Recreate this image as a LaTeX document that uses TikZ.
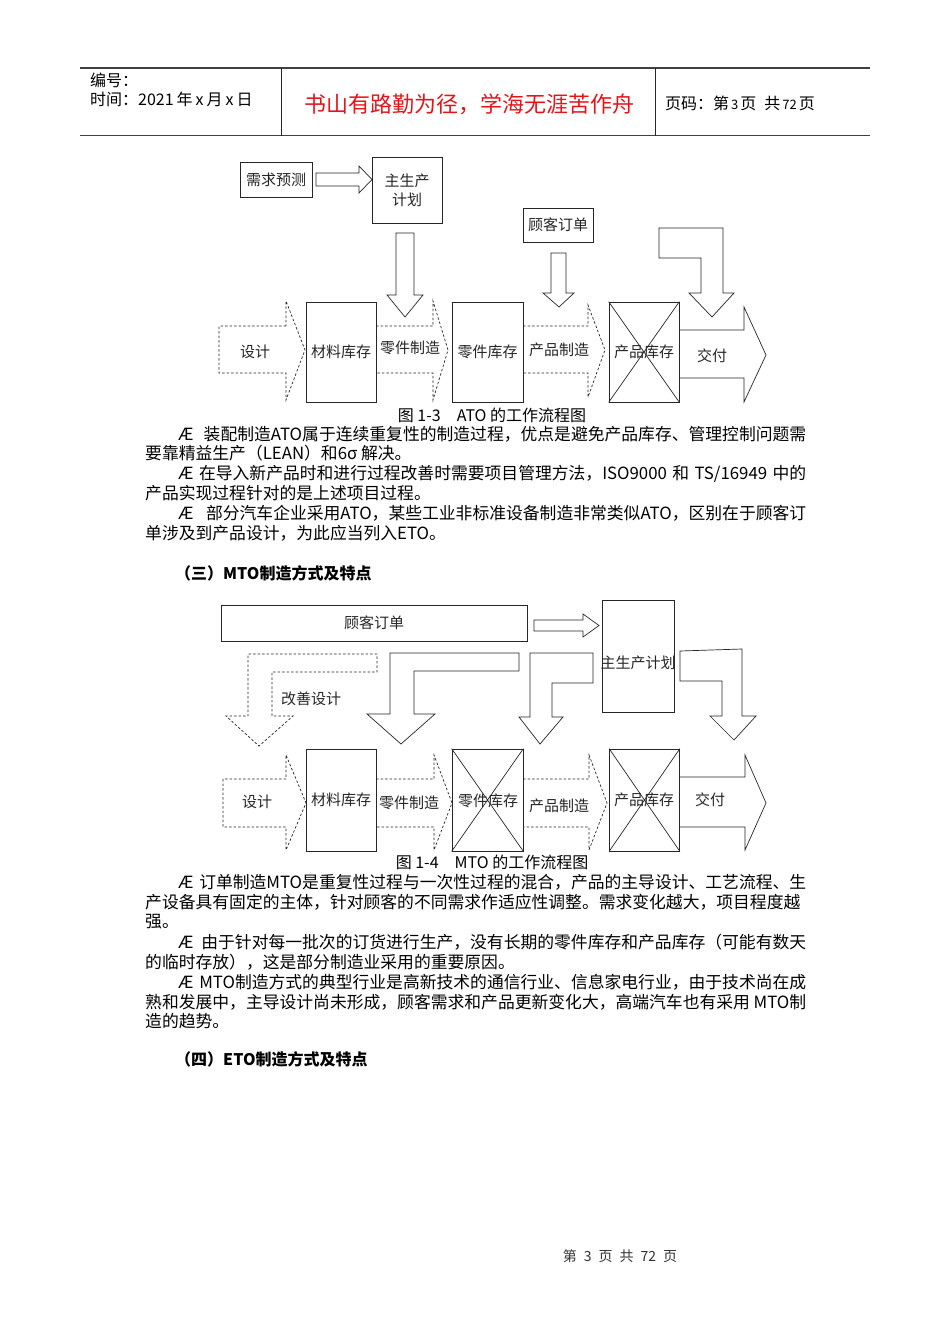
\documentclass[tikz,border=0pt]{standalone}
\usepackage{fontspec}
\setmainfont{Noto Sans CJK SC}
\XeTeXlinebreaklocale "zh"
\XeTeXlinebreakskip=0pt plus 3pt minus 0.8pt
\definecolor{hdrred}{RGB}{230,20,25}
\tikzset{
 ln/.style={draw=black!85, line width=0.7pt},
 bx/.style={ln, inner sep=0pt, font=\fontsize{15}{18}\selectfont, text=black!85},
 dsh/.style={draw=black!85, line width=0.7pt, dash pattern=on 2.5pt off 2pt},
 lbl/.style={inner sep=0pt, font=\fontsize{15}{17}\selectfont, text=black!85},
 body/.style={anchor=west, inner sep=0pt, font=\fontsize{16.8}{20}\selectfont},
 captxt/.style={inner sep=0pt, font=\fontsize{16}{18}\selectfont},
 ttl/.style={anchor=west, inner sep=0pt, font=\fontsize{16}{18}\selectfont\bfseries},
 hdr/.style={anchor=west, inner sep=0pt, font=\fontsize{16}{18}\selectfont},
}
\begin{document}
\begin{tikzpicture}[x=1pt,y=-1pt]
\useasboundingbox[fill=white] (0,0) rectangle (950,1344);

% ---------- header ----------
\draw[black!75, line width=1.4pt] (80,68) -- (870,68);
\draw[black!75, line width=1.4pt] (80,135.5) -- (870,135.5);
\draw[black!85, line width=0.8pt] (281,68) -- (281,135.5);
\draw[black!85, line width=0.8pt] (655,68) -- (655,135.5);
\node[hdr] (h1) at (90,80) {编号：};
\node[hdr] (h2) at (90,99.5) {时间：2021\hspace{3pt}年\hspace{3pt}x\hspace{3pt}月\hspace{3pt}x\hspace{3pt}日};
\node[inner sep=0pt, font=\fontsize{22}{24}\selectfont, text=hdrred] (h3) at (469,104) {书山有路勤为径，学海无涯苦作舟};
\node[hdr] (h4) at (665,103) {页码：第\hspace{2pt}{\fontsize{13}{15}\selectfont 3}\hspace{2pt}页\hspace{8pt}共\hspace{2pt}{\fontsize{13}{15}\selectfont 72}\hspace{2pt}页};

% ---------- ATO diagram ----------
\node[bx, minimum width=72pt, minimum height=35pt] (xq) at (276,179.5) {需求预测};
\node[bx, minimum width=70pt, minimum height=66pt, align=center] (zs) at (407,190) {主生产\\[1pt]计划};
\draw[ln] (316,173) -- (359,173) -- (359,166) -- (372,179.5) -- (359,193) -- (359,186) -- (316,186) -- cycle;
\draw[ln] (396,233) -- (414,233) -- (414,295) -- (423,295) -- (405,317) -- (387,295) -- (396,295) -- cycle;
\node[bx, minimum width=70pt, minimum height=34pt] (gk) at (558,225) {顾客订单};
\draw[ln] (551,253) -- (566,253) -- (566,293) -- (574,293) -- (559,307) -- (543,293) -- (551,293) -- cycle;
\draw[ln] (659,228) -- (723,228) -- (723,293) -- (734,293) -- (712,317) -- (689,293) -- (701,293) -- (701,258) -- (659,258) -- cycle;

\draw[dsh] (286,326) -- (219,326) -- (219,373) -- (286,373) -- (286,400) -- (305,350) -- (286,301) -- cycle;
\node[bx, minimum width=70pt, minimum height=100pt] (cl1) at (341,352) {材料库存};
\draw[dsh] (376,326) -- (433,326) -- (433,301) -- (448,350) -- (433,400) -- (433,373) -- (376,373);
\node[bx, minimum width=71pt, minimum height=100pt] (lk1) at (487.5,352) {零件库存};
\draw[dsh] (523,326) -- (588,326) -- (588,305) -- (605,350) -- (588,397) -- (588,373) -- (523,373);
\node[bx, minimum width=70pt, minimum height=100pt] (ck1) at (644,352) {};
\draw[ln] (ck1.north west) -- (ck1.south east) (ck1.north east) -- (ck1.south west);
\node[lbl] (ck1t) at (ck1) {产品库存};
\draw[ln] (679,330) -- (744,330) -- (744,307) -- (766,355) -- (744,402) -- (744,378) -- (679,378);
\node[lbl] (sj1) at (255,352) {设计};
\node[lbl] (lz1) at (410,348) {零件制造};
\node[lbl] (cz1) at (559,350) {产品制造};
\node[lbl] (jf1) at (712,356) {交付};
\node[captxt] (c1) at (492,415) {图 1-3\quad ATO 的工作流程图};

% ---------- ATO text ----------
\node[body] (a1) at (178,434) {\makebox[628pt][s]{Æ 装配制造ATO属于连续重复性的制造过程，优点是避免产品库存、管理控制问题需}};
\node[body] (a2) at (145,453.5) {要靠精益生产（LEAN）和6σ 解决。};
\node[body] (a3) at (178,473.5) {\makebox[628pt][s]{Æ 在导入新产品时和进行过程改善时需要项目管理方法，ISO9000 和 TS/16949 中的}};
\node[body] (a4) at (145,493.5) {产品实现过程针对的是上述项目过程。};
\node[body] (a5) at (178,513.5) {\makebox[628pt][s]{Æ 部分汽车企业采用ATO，某些工业非标准设备制造非常类似ATO，区别在于顾客订}};
\node[body] (a6) at (145,533.5) {单涉及到产品设计，为此应当列入ETO。};

\node[ttl] (t3) at (175,573) {（三）MTO制造方式及特点};

% ---------- MTO diagram ----------
\node[bx, minimum width=306pt, minimum height=36pt] (gk2) at (374,623) {顾客订单};
\draw[ln] (534,620) -- (583,620) -- (583,614) -- (599,625.5) -- (583,637) -- (583,631) -- (534,631) -- cycle;
\node[bx, minimum width=72pt, minimum height=112pt] (zs2) at (638,656) {};
\node[lbl] (zs2t) at (638,663) {主生产计划};
\draw[dsh] (377,654) -- (248,654) -- (248,716) -- (226,716) -- (259,746) -- (293,716) -- (272,716) -- (272,672) -- (377,672) -- cycle;
\node[lbl] (gs) at (311,699) {改善设计};
\draw[ln] (519,653) -- (390,653) -- (390,714) -- (367,714) -- (401,744) -- (435,714) -- (414,714) -- (414,671) -- (519,671) -- cycle;
\draw[ln] (593,653) -- (530,653) -- (530,717) -- (519,717) -- (540,744) -- (563,717) -- (552,717) -- (552,683) -- (593,683) -- cycle;
\draw[ln] (680,651) -- (742,649) -- (742,716) -- (756,716) -- (734,740) -- (710,716) -- (722,716) -- (722,681) -- (680,681) -- cycle;

\draw[dsh] (286,779) -- (223,779) -- (223,827) -- (286,827) -- (286,850) -- (306,803) -- (286,755) -- cycle;
\node[bx, minimum width=70pt, minimum height=102pt] (cl2) at (341,800) {材料库存};
\draw[dsh] (376,779) -- (434,779) -- (434,755) -- (452,803) -- (434,850) -- (434,827) -- (376,827);
\node[bx, minimum width=71pt, minimum height=102pt] (lk2) at (487.5,800) {};
\draw[ln] (lk2.north west) -- (lk2.south east) (lk2.north east) -- (lk2.south west);
\node[lbl] (lk2t) at (488,801) {零件库存};
\draw[dsh] (523,779) -- (589,779) -- (589,755) -- (607,803) -- (589,850) -- (589,827) -- (523,827);
\node[bx, minimum width=70pt, minimum height=102pt] (ck2) at (644.5,800) {};
\draw[ln] (ck2.north west) -- (ck2.south east) (ck2.north east) -- (ck2.south west);
\node[lbl] (ck2t) at (644,800) {产品库存};
\draw[ln] (679,777) -- (745,777) -- (745,755) -- (766,803) -- (745,850) -- (745,827) -- (679,827);
\node[lbl] (sj2) at (257,802) {设计};
\node[lbl] (lz2) at (409,803) {零件制造};
\node[lbl] (cz2) at (559,806) {产品制造};
\node[lbl] (jf2) at (710,800) {交付};
\node[captxt] (c2) at (492,862) {图 1-4\quad MTO 的工作流程图};

% ---------- MTO text ----------
\node[body] (m1) at (178,882) {\makebox[628pt][s]{Æ 订单制造MTO是重复性过程与一次性过程的混合，产品的主导设计、工艺流程、生}};
\node[body] (m2) at (145,902) {\makebox[661pt][s]{产设备具有固定的主体，针对顾客的不同需求作适应性调整。需求变化越大，项目程度越}};
\node[body] (m3) at (145,922) {强。};
\node[body] (m4) at (178,942) {\makebox[628pt][s]{Æ 由于针对每一批次的订货进行生产，没有长期的零件库存和产品库存（可能有数天}};
\node[body] (m5) at (145,962) {的临时存放），这是部分制造业采用的重要原因。};
\node[body] (m6) at (178,982) {\makebox[628pt][s]{Æ MTO制造方式的典型行业是高新技术的通信行业、信息家电行业，由于技术尚在成}};
\node[body] (m7) at (145,1002) {\makebox[661pt][s]{熟和发展中，主导设计尚未形成，顾客需求和产品更新变化大，高端汽车也有采用 MTO制}};
\node[body] (m8) at (145,1021) {造的趋势。};

\node[ttl] (t4) at (175,1059) {（四）ETO制造方式及特点};

% ---------- footer ----------
\node[inner sep=0pt, font=\fontsize{14}{16}\selectfont, text=black!80] (ft) at (620,1256) {第\hspace{7pt}3\hspace{7pt}页\hspace{7pt}共\hspace{7pt}72\hspace{7pt}页};
\end{tikzpicture}
\end{document}
